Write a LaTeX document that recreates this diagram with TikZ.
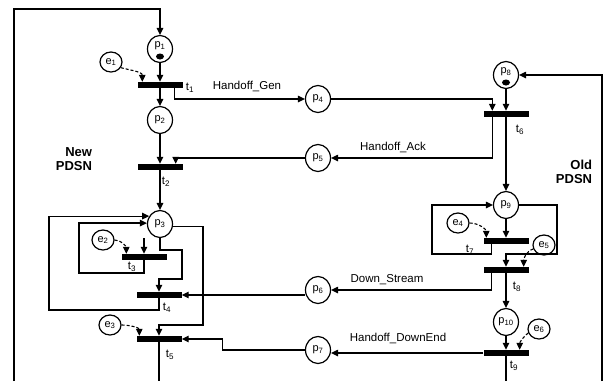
\documentclass[tikz,border=0pt]{standalone}
\usepackage{fontspec}
\setmainfont{Liberation Sans}
\usetikzlibrary{shapes.geometric,arrows.meta,calc}
\begin{document}
\begin{tikzpicture}[x=1pt,y=-1pt,
  every node/.style={font=\fontsize{11}{13}\selectfont, inner sep=0pt},
  place/.style={draw, ellipse, line width=1.2pt, minimum width=25pt, minimum height=27pt},
  event/.style={draw, ellipse, line width=1.2pt, minimum width=22pt, minimum height=20pt},
  trans/.style={fill=black, rectangle, minimum width=45pt, minimum height=6pt},
  token/.style={fill=black, ellipse, minimum width=8pt, minimum height=6pt},
  tlab/.style={font=\fontsize{11.5}{13}\selectfont},
  msg/.style={font=\fontsize{11.5}{13}\selectfont},
  side/.style={font=\bfseries\fontsize{13}{14}\selectfont, align=right},
  arc/.style={line width=1.2pt, -{Triangle[length=7pt,width=6.5pt]}},
  plain/.style={line width=1.2pt},
  evarc/.style={line width=1.1pt, dash pattern=on 3pt off 2pt, -{Triangle[length=7pt,width=6.5pt]}}]
\useasboundingbox (0,0) rectangle (606,381);

% places
\node[place] (p1) at (160,49) {};
\node[token] (k1) at ([yshift=-7.5pt]p1.center) {};
\node (l1) at ([yshift=3pt]p1.center) {p\textsubscript{1}};
\node[place] (p2) at (160,120) {p\textsubscript{2}};
\node[place] (p3) at (160,224) {p\textsubscript{3}};
\node[place] (p4) at (318,99) {p\textsubscript{4}};
\node[place] (p5) at (318,158) {p\textsubscript{5}};
\node[place] (p6) at (318,290) {p\textsubscript{6}};
\node[place] (p7) at (318,350) {p\textsubscript{7}};
\node[place] (p8) at (506,75) {};
\node[token] (k8) at ([yshift=-7.5pt]p8.center) {};
\node (l8) at ([yshift=3pt]p8.center) {p\textsubscript{8}};
\node[place] (p9) at (506,205) {p\textsubscript{9}};
\node[place] (p10) at (506,322) {p\textsubscript{10}};

% events
\node[event] (e1) at (111,62) {e\textsubscript{1}};
\node[event] (e2) at (103,240) {e\textsubscript{2}};
\node[event] (e3) at (110,325) {e\textsubscript{3}};
\node[event] (e4) at (458,223) {e\textsubscript{4}};
\node[event] (e5) at (544,245) {e\textsubscript{5}};
\node[event] (e6) at (539,329) {e\textsubscript{6}};

% transitions
\node[trans] (t1) at (160,85) {};
\node[trans] (t2) at (160,167) {};
\node[trans] (t3) at (144,257) {};
\node[trans] (t4) at (159,295) {};
\node[trans] (t5) at (159,339) {};
\node[trans] (t6) at (506,114) {};
\node[trans] (t7) at (506,241) {};
\node[trans] (t8) at (506,270) {};
\node[trans] (t9) at (506,353) {};

% transition labels
\node[tlab] (lt1) at (190,88) {t\textsubscript{1}};
\node[tlab] (lt2) at (166,182) {t\textsubscript{2}};
\node[tlab] (lt3) at (132,266.5) {t\textsubscript{3}};
\node[tlab] (lt4) at (167,308) {t\textsubscript{4}};
\node[tlab] (lt5) at (170,355) {t\textsubscript{5}};
\node[tlab] (lt6) at (520,130) {t\textsubscript{6}};
\node[tlab] (lt7) at (470,250) {t\textsubscript{7}};
\node[tlab] (lt8) at (517,287) {t\textsubscript{8}};
\node[tlab] (lt9) at (514,366) {t\textsubscript{9}};

% message labels
\node[msg] (m1) at (247,86) {Handoff\_Gen};
\node[msg] (m2) at (393,147) {Handoff\_Ack};
\node[msg] (m3) at (387,280) {Down\_Stream};
\node[msg] (m4) at (398,338) {Handoff\_DownEnd};

% side labels
\node[side] (newp) at (74,159) {New\\PDSN};
\node[side] (oldp) at (574,172) {Old\\PDSN};

% helper coordinates
\coordinate (bl) at (14,381);
\coordinate (tl) at (160,9);
\coordinate (br) at (602,381);
\coordinate (b5) at (159,381);
\coordinate (b9) at (506,381);

% New PDSN connectors
\draw[arc] (bl) |- (tl) -- (p1.north);
\draw[arc] (p1.south) -- (t1.north);
\draw[evarc] (e1.-30) to[out=-15,in=90] ($(t1.north west)+(5,0)$);
\draw[arc] (t1.south) -- (p2.north);
\draw[arc] ($(t1.south east)+(-8,0)$) |- (p4.west);
\draw[arc] (p2.south) -- (t2.north);
\draw[arc] (p5.west) -| ($(t2.north east)+(-7,0)$);
\draw[arc] (t2.south) -- (p3.north);
\draw[arc] (t3.north |- p3.south) -- (t3.north);
\draw[evarc] (e2.east) to[out=0,in=90] ($(t3.north west)+(5,0)$);
\draw[arc] (t3.south) |- (79,273) |- (p3.176);
\draw[arc] (t4.south) |- (49,310) |- (p3.144);
\draw[arc] (p3.south) |- (182,250) -- (182,279) -| (t4.north);
\draw[arc] (t4.east -| p6.west) -- (t4.east);
\draw[arc] (p3.-10) -| (203,325) -| (t5.north);
\draw[evarc] (e3.east) to[out=0,in=90] ($(t5.north west)+(3,0)$);
\draw[arc] (p7.west) -| ($(t5.east)+(41,0)$) -- (t5.east);
\draw[plain] (t5.south) -- (b5);

% Old PDSN connectors
\draw[arc] (br) |- (p8.east);
\draw[arc] (p8.south) -- (t6.north);
\draw[arc] (p4.east) -| ($(t6.north west)+(9,0)$);
\draw[arc] ($(t6.south west)+(9,0)$) |- (p5.east);
\draw[arc] (t6.south) -- (p9.north);
\draw[arc] (p9.south) -- (t7.north);
\draw[evarc] (e4.east) to[out=0,in=90] ($(t7.north west)+(3,0)$);
\draw[arc] ($(t7.south west)+(8,0)$) |- (432,254) |- (p9.west);
\draw[arc] (p9.east) -| (557,254) -| (t8.north);
\draw[evarc] (e5.200) to[out=200,in=90] ($(t8.north east)+(-5,0)$);
\draw[arc] ($(t8.south west)+(8,0)$) |- (p6.east);
\draw[arc] (t8.south) -- (p10.north);
\draw[arc] (p10.south) -- (t9.north);
\draw[evarc] (e6.200) to[out=220,in=90] ($(t9.north east)+(-9,0)$);
\draw[arc] (t9.west) -- (t9.west -| p7.east);
\draw[plain] (t9.south) -- (b9);
\end{tikzpicture}
\end{document}
